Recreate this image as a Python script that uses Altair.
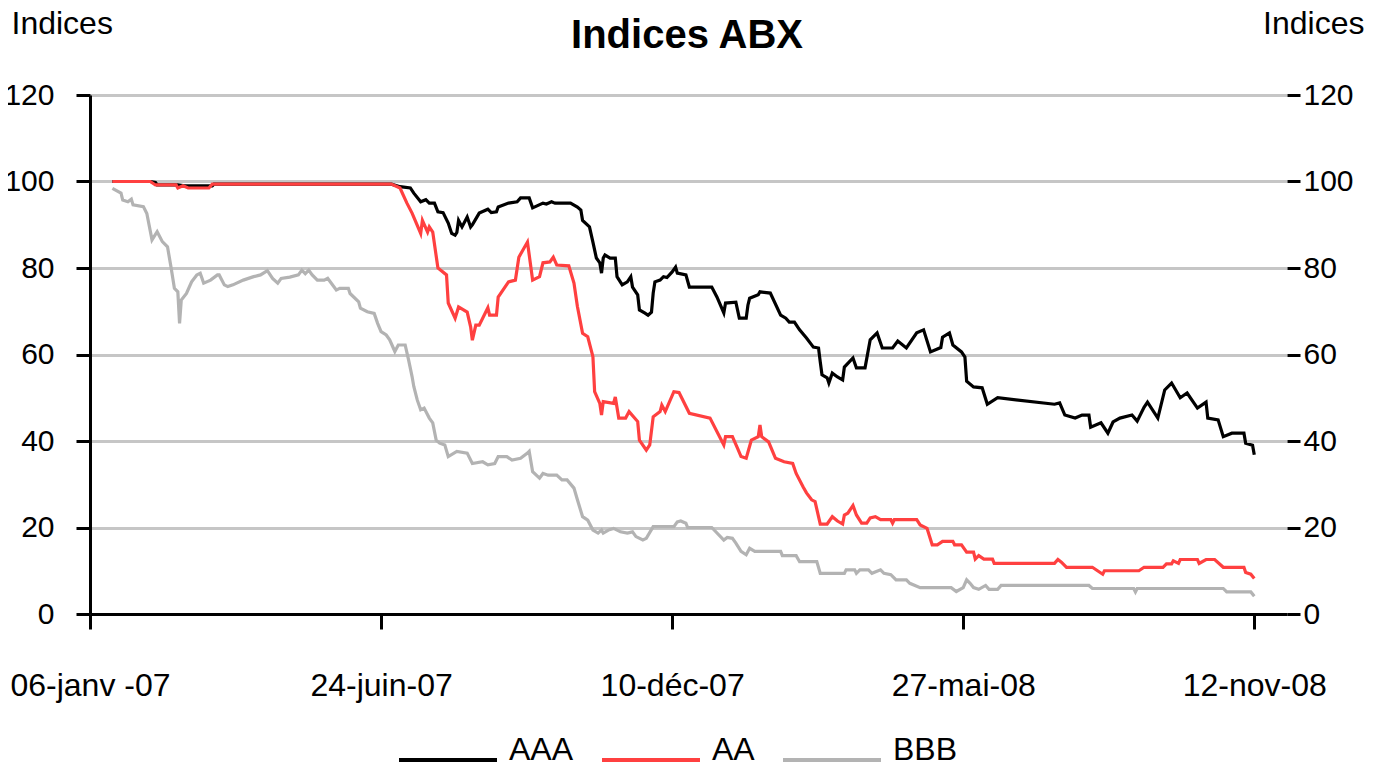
import altair as alt
import pandas as pd

# ---------------------------------------------------------------- data
START_DATE = "2007-01-06"   # day 0 of the day counts below
AXIS_END = "2008-12-01"

AAA_DAYS = [13, 35, 38, 39, 51, 55, 71, 72, 175, 180, 186, 188, 192, 195, 197, 200, 202, 205,
            208, 210, 212, 213, 214, 216, 219, 221, 222, 226, 231, 233, 236, 237, 243, 248, 250, 255,
            257, 263, 265, 268, 270, 279, 283, 285, 286, 290, 292, 294, 296, 297, 298, 299, 302, 305,
            306, 309, 312, 314, 315, 318, 319, 322, 324, 326, 327, 328, 331, 333, 335, 338, 340, 341,
            346, 348, 361, 364, 368, 369, 375, 377, 381, 382, 383, 388, 389, 395, 401, 404, 406, 409,
            412, 416, 420, 423, 424, 425, 428, 429, 431, 434, 437, 438, 443, 445, 450, 453, 457, 460,
            466, 469, 474, 480, 484, 488, 494, 495, 499, 501, 506, 508, 509, 513, 518, 521, 527, 560,
            563, 566, 572, 576, 580, 581, 587, 591, 594, 598, 605, 608, 612, 614, 620, 624, 628, 633,
            637, 643, 648, 649, 655, 658, 663, 670, 671, 675, 676]
AAA_VALUES = [100, 100, 99.8, 99.2, 99.2, 99.0, 99.0, 99.4, 99.4, 98.8, 98.5, 97.3, 95.3, 95.8, 95.0, 95.0, 93, 92.8,
              90.4, 88, 87.6, 88.2, 91, 89.5, 91.8, 89.5, 90, 92.7, 93.6, 92.8, 93, 94.1, 95, 95.3, 96.2, 96.2,
              93.9, 95, 94.8, 95.3, 95, 95, 94.1, 93.4, 91, 89.5, 86, 82.3, 81.2, 78.8, 82.3, 83, 82.3, 82.3,
              78, 76.1, 76.8, 78, 75.6, 73.8, 70.3, 69.6, 69.1, 69.8, 74.2, 76.8, 77.2, 78, 77.8, 79.1, 80.2, 78.8,
              78.4, 75.6, 75.6, 73.3, 69.6, 71.9, 72.1, 68.4, 68.4, 71.4, 73, 73.8, 74.5, 74.2, 69.1, 68.4, 67.5, 67.5,
              65.7, 63.8, 61.7, 61.5, 58.3, 55.3, 54.6, 53.4, 55.7, 54.8, 54.1, 57.1, 59.2, 56.9, 56.9, 63.4, 65, 61.5,
              61.5, 63.1, 61.5, 65, 65.7, 60.6, 61.6, 64, 65, 62.2, 60.6, 59.4, 53.8, 52.5, 52.3, 48.5, 50, 48.5,
              48.8, 46, 45.3, 46, 46, 43.2, 44.2, 41.8, 44.4, 45.3, 46, 44.6, 47.8, 49, 45.3, 51.8, 53.4, 50,
              51.1, 47.6, 49, 45.3, 44.9, 41, 41.8, 41.8, 39.5, 39, 36.8]

AA_DAYS = [13, 35, 38, 50, 51, 54, 57, 69, 71, 175, 180, 184, 187, 192, 193, 196, 197, 199, 202, 207,
           208, 212, 214, 219, 221, 222, 224, 226, 231, 232, 236, 237, 243, 247, 249, 254, 257, 261, 263, 267,
           269, 271, 278, 281, 283, 286, 289, 292, 293, 296, 297, 298, 304, 305, 307, 311, 313, 318, 319, 323,
           325, 327, 331, 332, 334, 339, 342, 348, 360, 368, 369, 373, 376, 378, 381, 384, 388, 389, 390, 394,
           398, 403, 408, 410, 414, 416, 419, 421, 423, 424, 428, 431, 434, 437, 438, 440, 443, 445, 448, 451,
           453, 456, 459, 465, 466, 467, 480, 482, 486, 489, 492, 495, 501, 502, 506, 509, 513, 514, 516, 519,
           524, 525, 560, 562, 564, 567, 582, 585, 588, 589, 609, 612, 623, 625, 628, 629, 632, 633, 643, 644,
           648, 653, 658, 670, 671, 674, 676]
AA_VALUES = [100, 100, 99.2, 99.2, 98.5, 99, 98.5, 98.5, 99.4, 99.4, 98.5, 95, 92.7, 88, 91, 88.3, 89.5, 88.3, 80, 78.4,
             71.9, 68.4, 71, 69.8, 66.4, 63.3, 66.8, 66.8, 70.8, 69.1, 69.1, 73.3, 76.8, 77.2, 82.5, 86, 77.2, 78, 81.2, 81.4,
             82.5, 80.7, 80.5, 76.5, 71.1, 64.9, 64.1, 59.5, 51.4, 48.7, 46, 49.1, 48.7, 50.2, 45.3, 45.3, 46.8, 44.5, 40.2, 37.9,
             39.1, 45.6, 46.8, 48.3, 46.8, 51.4, 51.2, 46.4, 45.3, 39.1, 41, 41, 38.3, 36.4, 36, 40.2, 41, 43.7, 41, 39.8,
             36, 35.2, 34.8, 32.5, 29.4, 28, 26.4, 26, 22.5, 20.8, 20.8, 22.5, 21.5, 20.8, 22.9, 23.3, 25.1, 22.9, 21, 21,
             22.2, 22.5, 21.8, 21.8, 21, 21.8, 21.8, 20.6, 19.8, 16, 16, 16.8, 16.8, 16, 16, 14.3, 14.3, 12.7, 13.5, 12.7,
             12.7, 11.7, 11.7, 12.6, 12, 10.8, 10.8, 10, 9.2, 10, 10, 10.8, 10.8, 11.6, 11.6, 12.3, 11.7, 12.6, 12.6, 11.7,
             12.6, 12.6, 10.8, 10.8, 9.6, 9.2, 8.2]

BBB_DAYS = [13, 18, 19, 22, 24, 25, 31, 33, 36, 39, 42, 45, 47, 49, 51, 52, 53, 56, 59, 62,
            64, 66, 70, 74, 75, 78, 80, 83, 89, 95, 99, 103, 106, 109, 111, 116, 121, 123, 125, 127,
            129, 132, 136, 138, 143, 145, 150, 151, 156, 157, 161, 165, 167, 169, 172, 174, 177, 179, 183, 185,
            187, 188, 190, 192, 194, 197, 199, 201, 203, 206, 208, 213, 219, 222, 228, 231, 235, 237, 242, 245,
            250, 254, 255, 257, 261, 263, 266, 271, 274, 277, 281, 283, 286, 289, 292, 295, 297, 298, 301, 304,
            308, 312, 315, 317, 321, 323, 327, 339, 341, 343, 346, 347, 361, 368, 370, 373, 375, 378, 381, 383,
            386, 401, 402, 410, 412, 422, 424, 438, 439, 444, 445, 447, 452, 454, 459, 461, 465, 468, 474, 476,
            482, 500, 503, 507, 509, 511, 513, 516, 520, 522, 527, 529, 580, 582, 606, 607, 608, 658, 660, 674,
            676]
BBB_VALUES = [98.4, 97.3, 95.7, 95.3, 95.9, 94.6, 94.2, 92.6, 86.5, 88.4, 86.1, 84.9, 80.3, 75.3, 74.5, 67.2, 72.6, 74.1, 76.8, 78.4,
              78.8, 76.5, 77.2, 78.4, 78.4, 76.1, 75.7, 76.1, 77.2, 78, 78.4, 79.4, 77.6, 76.5, 77.6, 77.9, 78.4, 79.5, 78.7, 79.5,
              78.4, 77.2, 77.2, 77.6, 74.9, 75.3, 75.3, 74.1, 72.2, 70.7, 69.9, 69.5, 67.2, 65.3, 64.5, 63.4, 60.7, 62.2, 62.2, 58.7,
              54.9, 52.6, 49.5, 47.2, 47.6, 45.3, 44.2, 40.2, 39.5, 39.1, 36.4, 37.6, 37.2, 34.8, 35.2, 34.5, 34.8, 36.4, 36.4, 35.6,
              36, 37.2, 37.6, 32.9, 31.4, 32.5, 32.1, 32.1, 31, 31, 29.1, 26.4, 22.5, 21.7, 19.4, 18.7, 19.4, 18.7, 19.4, 19.8,
              19, 18.7, 19, 17.9, 17.1, 17.5, 20.2, 20.2, 21.3, 21.5, 21, 20, 20, 17.1, 17.7, 17.5, 16.4, 14.5, 13.7, 15.2,
              14.5, 14.5, 13.5, 13.5, 12.1, 12.1, 9.4, 9.4, 10.2, 10.2, 9.4, 10.2, 10.2, 9.4, 10.2, 9.4, 9.1, 7.9, 7.9, 7.1,
              6.1, 6.1, 5.2, 6.1, 7.9, 7.1, 6.1, 5.7, 6.6, 5.7, 5.7, 6.6, 6.6, 5.9, 5.9, 5.1, 5.9, 5.9, 5.1, 5.1,
              4.1]

SERIES = ["AAA", "AA", "BBB"]
COLORS = ["#000000", "#FF4040", "#B3B3B3"]
DRAW_ORDER = ["BBB", "AAA", "AA"]

Y_TICKS = [0, 20, 40, 60, 80, 100, 120]
X_TICK_DATES = ["2007-01-06", "2007-06-24", "2007-12-10", "2008-05-27", "2008-11-12"]
X_TICK_LABELS = ["06-janv -07", "24-juin-07", "10-déc-07", "27-mai-08", "12-nov-08"]

TITLE = "Indices ABX"
Y_TITLE = "Indices"

FONT = "Liberation Sans, Arial, sans-serif"

# ---------------------------------------------------------------- table
series_data = {"AAA": (AAA_DAYS, AAA_VALUES), "AA": (AA_DAYS, AA_VALUES), "BBB": (BBB_DAYS, BBB_VALUES)}
frames = []
for name in DRAW_ORDER:
    days, values = series_data[name]
    assert len(days) == len(values), name
    dates = pd.Timestamp(START_DATE) + pd.to_timedelta(days, unit="D")
    frames.append(pd.DataFrame({"date": dates.strftime("%Y-%m-%d"), "value": values, "series": name}))
df = pd.concat(frames, ignore_index=True)


def dt(s):
    y, m, d = (int(p) for p in s.split("-"))
    return alt.DateTime(year=y, month=m, date=d, utc=True)


label_expr = "".join(
    f"utcFormat(datum.value, '%Y-%m-%d') == '{d}' ? '{l}' : " for d, l in zip(X_TICK_DATES, X_TICK_LABELS)
) + "''"

x_scale = alt.Scale(type="utc", domain=[dt(START_DATE), dt(AXIS_END)], nice=False)
y_scale = alt.Scale(domain=[0, 120], nice=False, zero=True)

x_axis = alt.Axis(
    values=[dt(d) for d in X_TICK_DATES], labelExpr=label_expr, title=None, grid=False,
    orient="bottom", tickSize=15, tickWidth=3, tickColor="black",
    domainColor="black", domainWidth=3, labelFontSize=32, labelFont=FONT,
    labelColor="black", labelPadding=66, labelBaseline="alphabetic",
    labelFlush=False, labelOverlap=False, labelBound=False,
)

y_left = alt.Axis(
    values=Y_TICKS, orient="left", grid=True, gridColor="#C6C6C6", gridWidth=3,
    domainColor="black", domainWidth=3, tickColor="black", tickWidth=3, tickSize=14,
    labelPadding=22, labelFontSize=30, labelFont=FONT, labelColor="black",
    title=Y_TITLE, titleAngle=0, titleX=-79, titleY=-62, titleAlign="left",
    titleBaseline="alphabetic", titleFontSize=32, titleFont=FONT,
    titleFontWeight="normal", titleColor="black",
)

y_right = alt.Axis(
    values=Y_TICKS, orient="right", grid=False, domain=False,
    tickColor="black", tickWidth=3, tickSize=13,
    labelPadding=3, labelFontSize=30, labelFont=FONT, labelColor="black",
    title=Y_TITLE, titleAngle=0, titleX=77, titleY=-62, titleAlign="right",
    titleBaseline="alphabetic", titleFontSize=32, titleFont=FONT,
    titleFontWeight="normal", titleColor="black",
)

legend = alt.Legend(
    orient="none", legendX=307, legendY=614, direction="horizontal", title=None,
    symbolType="stroke", symbolSize=9604, symbolStrokeWidth=4, symbolOpacity=1,
    labelFontSize=32, labelFont=FONT, labelColor="black", labelBaseline="alphabetic",
    labelOffset=10, columnPadding=20, padding=0,
)

lines = alt.Chart(df).mark_line(strokeWidth=3.2, interpolate="linear").encode(
    x=alt.X("date:T", scale=x_scale, axis=x_axis),
    y=alt.Y("value:Q", scale=y_scale, axis=y_left),
    color=alt.Color("series:N", scale=alt.Scale(domain=SERIES, range=COLORS), legend=legend),
    detail="series:N",
)

right_axis = alt.Chart(pd.DataFrame({"tick": Y_TICKS})).mark_point(opacity=0).encode(
    y=alt.Y("tick:Q", scale=y_scale, axis=y_right),
)

title = alt.Chart(pd.DataFrame({"text": [TITLE]})).mark_text(
    font=FONT, fontSize=40, fontWeight="bold", color="black", align="center", baseline="alphabetic",
).encode(
    text="text:N",
    x=alt.value(597),
    y=alt.value(-47),
)

chart = (
    alt.layer(lines, right_axis, title)
    .resolve_scale(y="independent")
    .properties(
        width=1197,
        height=519,
        padding={"left": 82, "top": 87, "right": 80, "bottom": 148},
        autosize=alt.AutoSizeParams(type="none"),
    )
    .configure_view(stroke=None)
)

chart.save("out.html", embed_options={"renderer": "svg", "actions": False})
